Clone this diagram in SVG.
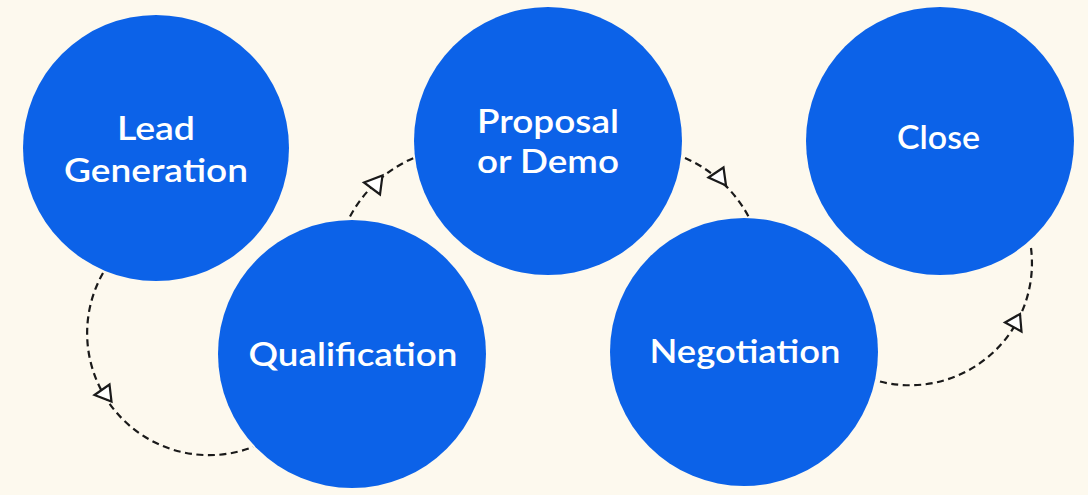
<svg xmlns="http://www.w3.org/2000/svg" width="1088" height="495" viewBox="0 0 1088 495">
<style>
.node{fill:#0C62E8}
.lbl{fill:#ffffff;font-family:Lato,"Open Sans","Liberation Sans",sans-serif;font-weight:600;font-size:33px;text-anchor:middle}
.arc{fill:none;stroke:#1a1a1a;stroke-width:2.2;stroke-dasharray:7 4.5}
.head{fill:#ffffff;stroke:#1a1a1a;stroke-width:2.2;stroke-linejoin:miter}
</style>
<rect width="1088" height="495" fill="#FDF9EE"/>
<g id="connectors">
<path class="arc" d="M103,273 A122,122 0 0 0 253,447"/>
<polygon class="head" points="94.5,395 109.5,384.5 111.5,401.5"/>
<path class="arc" d="M350,216.5 A132,132 0 0 1 413.5,158"/>
<polygon class="head" points="364,182.5 382.5,175.5 380,194.5"/>
<path class="arc" d="M685,158 A132,132 0 0 1 748.5,216.5"/>
<polygon class="head" points="708.5,177.5 723.5,167.5 726,185.5"/>
<path class="arc" d="M1031,248 A122,122 0 0 1 878,381"/>
<polygon class="head" points="1005,322.5 1020,314 1021.5,331.5"/>
</g>
<g id="lead">
<circle class="node" cx="156" cy="148" r="133"/>
<text class="lbl" x="156" y="140" textLength="78" lengthAdjust="spacingAndGlyphs">Lead</text>
<text class="lbl" x="156" y="182" textLength="184" lengthAdjust="spacingAndGlyphs">Generation</text>
</g>
<g id="qualification">
<circle class="node" cx="352" cy="354" r="134"/>
<text class="lbl" x="353" y="366" textLength="209" lengthAdjust="spacingAndGlyphs">Qualification</text>
</g>
<g id="proposal">
<circle class="node" cx="548" cy="141" r="134"/>
<text class="lbl" x="548" y="133" textLength="142" lengthAdjust="spacingAndGlyphs">Proposal</text>
<text class="lbl" x="548" y="173" textLength="142" lengthAdjust="spacingAndGlyphs">or Demo</text>
</g>
<g id="negotiation">
<circle class="node" cx="744" cy="352" r="134"/>
<text class="lbl" x="745" y="362.5" textLength="191" lengthAdjust="spacingAndGlyphs">Negotiation</text>
</g>
<g id="close">
<circle class="node" cx="940" cy="141" r="134"/>
<text class="lbl" x="938.5" y="148.5" textLength="83" lengthAdjust="spacingAndGlyphs">Close</text>
</g>
</svg>
